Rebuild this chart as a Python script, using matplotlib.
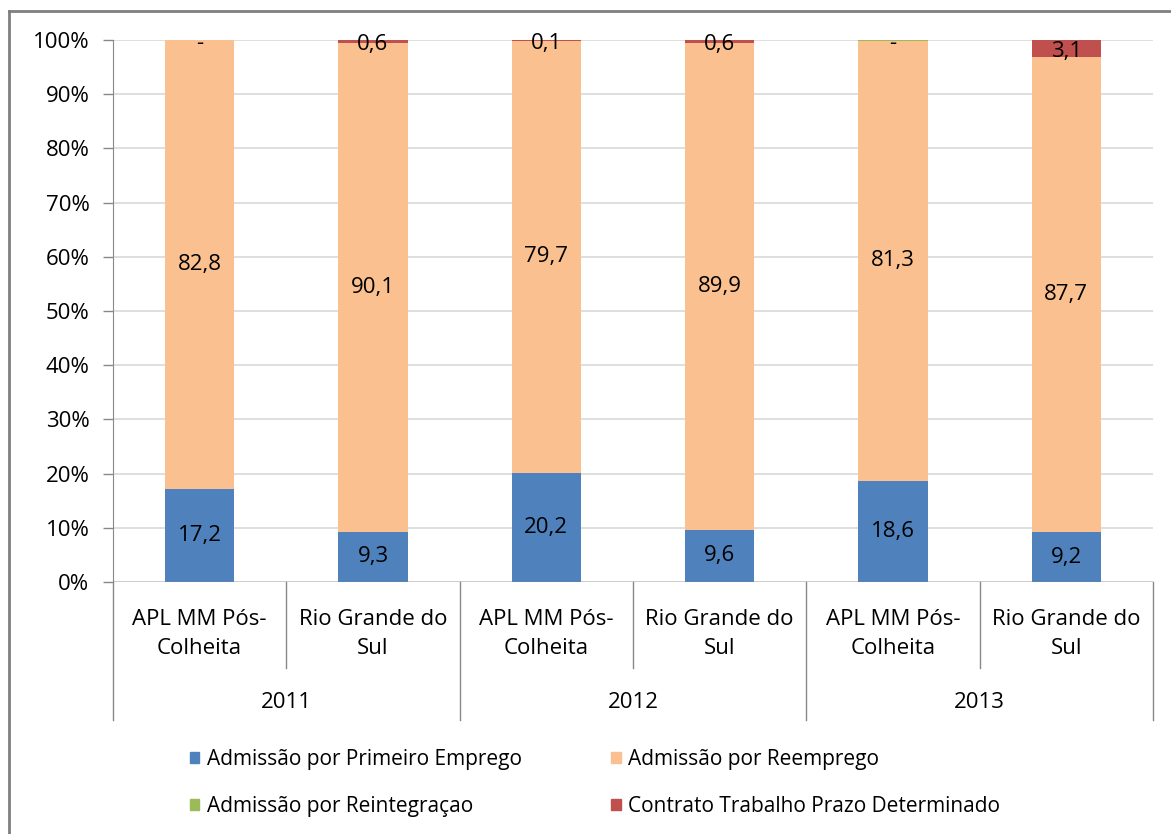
import numpy as np
import matplotlib.pyplot as plt
from matplotlib.lines import Line2D
from matplotlib.patches import Patch

plt.rcParams['font.family'] = ['Open Sans', 'DejaVu Sans']

# data (percent of admissions)
years = ['2011', '2012', '2013']
places = ['APL MM Pós-\nColheita', 'Rio Grande do\nSul']
primeiro = [17.2, 9.3, 20.2, 9.6, 18.6, 9.2]
reemprego = [82.8, 90.1, 79.7, 89.9, 81.3, 87.7]
reintegracao = [0.0, 0.0, 0.0, 0.0, 0.1, 0.0]
contrato = [0.0, 0.6, 0.1, 0.6, 0.0, 3.1]
contrato_labels = ['-', '0,6', '0,1', '0,6', '-', '3,1']

series_names = ['Admissão por Primeiro Emprego', 'Admissão por Reemprego',
                'Admissão por Reintegraçao', 'Contrato Trabalho Prazo Determinado']
colors = ['#4F81BD', '#FAC090', '#9BBB59', '#C0504D']

W, H = 1171, 834
fig = plt.figure(figsize=(W / 100, H / 100), dpi=100)
ax = fig.add_axes([113 / W, 1 - 582 / H, (1153 - 113) / W, (582 - 40) / H])

x = np.arange(len(primeiro))
bottom = np.zeros(len(x))
for vals, c in zip([primeiro, reemprego, reintegracao, contrato], colors):
    ax.bar(x, vals, 0.4, bottom=bottom, color=c, zorder=3)
    bottom += np.array(vals)

# labels inside bars
fs = 16
for i in x:
    ax.text(i, primeiro[i] / 2, f'{primeiro[i]:.1f}'.replace('.', ','),
            ha='center', va='center', fontsize=fs, zorder=4)
    ax.text(i, primeiro[i] + reemprego[i] / 2, f'{reemprego[i]:.1f}'.replace('.', ','),
            ha='center', va='center', fontsize=fs, zorder=4)
    top = primeiro[i] + reemprego[i] + reintegracao[i]
    ax.text(i, min(top, 99.9) + contrato[i] / 2 - 0.6, contrato_labels[i],
            ha='center', va='center', fontsize=fs, zorder=4)

ax.set_xlim(-0.5, 5.5)
ax.set_ylim(0, 100)
ax.set_yticks(np.arange(0, 101, 10))
ax.set_yticklabels([f'{v}%' for v in range(0, 101, 10)], fontsize=fs)
ax.set_xticks([])
ax.yaxis.grid(True, color='#D9D9D9', linewidth=1.2, zorder=0)
ax.tick_params(axis='y', length=7, width=1, color='#888888', pad=10)
for s in ['top', 'right', 'bottom']:
    ax.spines[s].set_visible(False)
ax.spines['left'].set_color('#888888')
ax.axhline(0, color='#888888', linewidth=1, zorder=4)

# multi-level category axis
tr = ax.get_xaxis_transform()
gcol = '#888888'
for b in [-0.5, 1.5, 3.5, 5.5]:
    ax.add_line(Line2D([b, b], [0, -0.255], transform=tr, color=gcol, lw=1, clip_on=False))
for b in [0.5, 2.5, 4.5]:
    ax.add_line(Line2D([b, b], [0, -0.159], transform=tr, color=gcol, lw=1, clip_on=False))
for i in x:
    ax.text(i, -0.096, places[i % 2], transform=tr, ha='center', va='center',
            fontsize=fs, linespacing=1.55)
for j, yr in enumerate(years):
    ax.text(2 * j + 0.5, -0.223, yr, transform=tr, ha='center', va='center', fontsize=fs)

# legend (row-wise order like the original)
order = [0, 2, 1, 3]
handles = [Patch(color=colors[k]) for k in order]
labels = [series_names[k] for k in order]
fig.legend(handles, labels, ncol=2, loc='upper left',
           bbox_to_anchor=(190 / W, 1 - 749 / H), frameon=False, fontsize=15,
           borderpad=0, borderaxespad=0,
           handlelength=0.45, handleheight=0.45, handletextpad=0.35,
           columnspacing=4.3, labelspacing=1.25)

# outer chart frame
fig.add_artist(Line2D([9 / W, 9 / W], [0, 1 - 11 / H], transform=fig.transFigure,
                      color='#7F7F7F', lw=2))
fig.add_artist(Line2D([9 / W, 1], [1 - 11 / H, 1 - 11 / H], transform=fig.transFigure,
                      color='#7F7F7F', lw=2))

fig.savefig('out.png', dpi=100)
